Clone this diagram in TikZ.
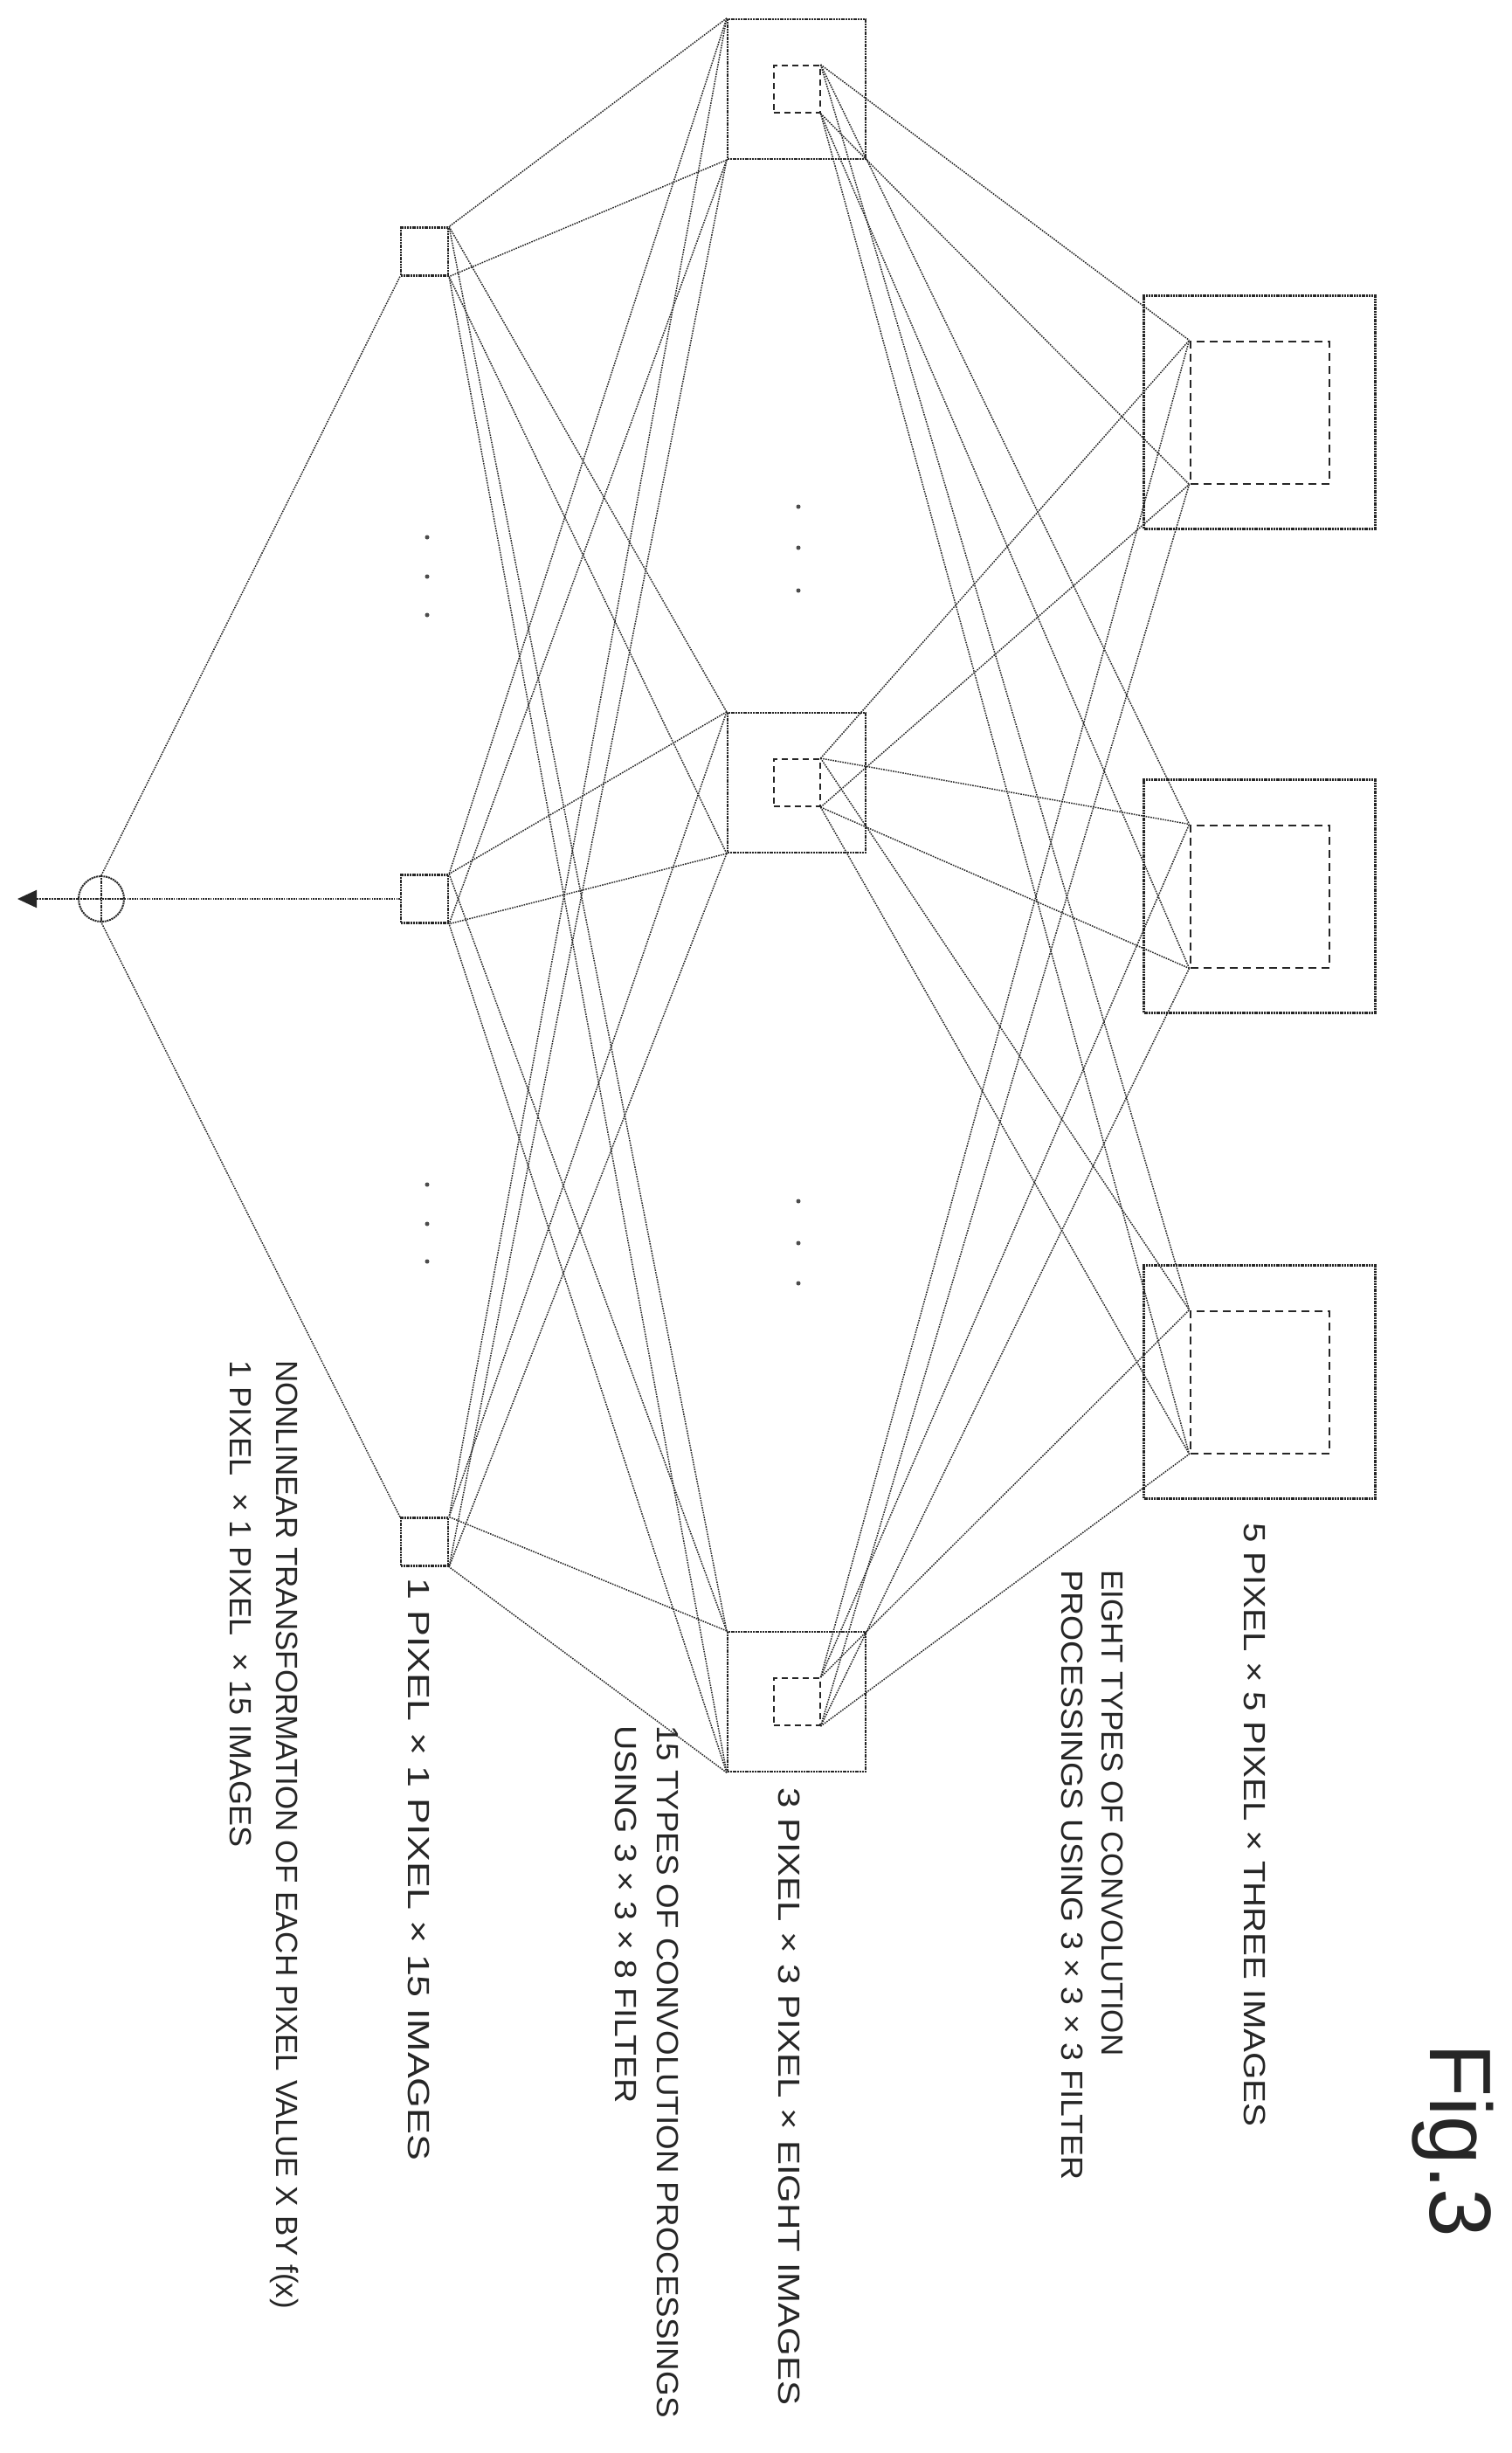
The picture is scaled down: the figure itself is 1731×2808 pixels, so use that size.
\documentclass[tikz,border=0pt]{standalone}
\usepackage{fontspec}
\setmainfont{Liberation Sans}
\usetikzlibrary{arrows.meta}
\begin{document}
\begin{tikzpicture}[x=1pt,y=-1pt,
  ln/.style={draw=black!85,line width=1.5pt,dash pattern=on 1.6pt off 1.2pt},
  outer/.style={draw=black!85,line width=2.2pt,dash pattern=on 2pt off 0.8pt,rectangle,inner sep=0pt},
  inner/.style={draw=black!85,line width=2pt,dash pattern=on 9pt off 6pt,rectangle,inner sep=0pt},
  lbl/.style={rotate=-90,anchor=west,font=\fontsize{35}{40}\selectfont,inner sep=0pt,text=black!85},
  dot/.style={circle,fill=black!70,inner sep=0pt,minimum size=5pt}]
\useasboundingbox (0,0) rectangle (1731,2808);
% 5x5 layer
\foreach \i/\y in {1/472,2/1026,3/1582}{
  \node[outer,minimum width=265pt,minimum height=267pt] (F\i) at (1442,\y) {};
  \node[inner,minimum width=159pt,minimum height=163pt] (Fi\i) at (1442,\y) {};
}
% 3x3 layer
\foreach \i/\y in {1/102,2/896,3/1948}{
  \node[outer,minimum width=158pt,minimum height=160pt] (T\i) at (912,\y) {};
  \node[inner,dash pattern=on 7pt off 5pt,minimum width=53pt,minimum height=54pt] (Ti\i) at (912,\y) {};
}
% 1x1 layer
\foreach \i/\y in {1/288,2/1029,3/1765}{
  \node[outer,minimum width=54pt,minimum height=55pt] (O\i) at (486,\y) {};
}
% sum node
\node[outer,line width=2pt,circle,minimum size=52pt,inner sep=0pt] (S) at (116,1029) {};
\draw[outer,line width=2pt] (S.north) -- (S.south) (S.west) -- (S.east);
\coordinate (out) at (20,1029);
\draw[outer,line width=2pt,-{Triangle[length=22pt,width=20pt]}] (S.west) -- (out);
% connections 5x5 -> 3x3
\foreach \i in {1,2,3}{\foreach \j in {1,2,3}{
  \draw[ln] (Ti\i.north east) -- (Fi\j.north west);
  \draw[ln] (Ti\i.south east) -- (Fi\j.south west);
}}
% connections 3x3 -> 1x1
\foreach \i in {1,2,3}{\foreach \j in {1,2,3}{
  \draw[ln] (T\i.north west) -- (O\j.north east);
  \draw[ln] (T\i.south west) -- (O\j.south east);
}}
% 1x1 -> sum
\draw[ln] (O1.south west) -- (S.north);
\draw[ln] (O2.west) -- (S.east);
\draw[ln] (O3.north west) -- (S.south);
% dots
\foreach \y [count=\k] in {615,660,704,1356,1401,1444}{\node[dot] (da\k) at (489,\y) {};}
\foreach \y [count=\k] in {580,627,676,1375,1423,1469}{\node[dot] (db\k) at (914,\y) {};}
% labels
\node[lbl] (t1) at (1437,1743) {\scalebox{1.15}[1]{5 PIXEL × 5 PIXEL × THREE IMAGES}};
\node[lbl] (t2) at (1274,1797) {\scalebox{1.0}[1]{EIGHT TYPES OF CONVOLUTION}};
\node[lbl] (t3) at (1228,1797) {\scalebox{1.07}[1]{PROCESSINGS USING 3 × 3 × 3 FILTER}};
\node[lbl] (t4) at (904,2046) {\scalebox{1.2}[1]{3 PIXEL × 3 PIXEL × EIGHT IMAGES}};
\node[lbl] (t5) at (765,1975) {\scalebox{1.05}[1]{15 TYPES OF CONVOLUTION PROCESSINGS}};
\node[lbl] (t6) at (717,1975) {\scalebox{1.12}[1]{USING 3 × 3 × 8 FILTER}};
\node[lbl] (t7) at (480,1806) {\scalebox{1.28}[1]{1 PIXEL × 1 PIXEL × 15 IMAGES}};
\node[lbl] (t8) at (326,1557) {NONLINEAR TRANSFORMATION OF EACH PIXEL VALUE X BY f(x)};
\node[lbl] (t9) at (276,1557) {\scalebox{1.03}[1]{1 PIXEL \ × 1 PIXEL \ × 15 IMAGES}};
\node[lbl,font=\fontsize{100}{110}\selectfont] (fig) at (1663,2339) {Fig.3};
\end{tikzpicture}
\end{document}
